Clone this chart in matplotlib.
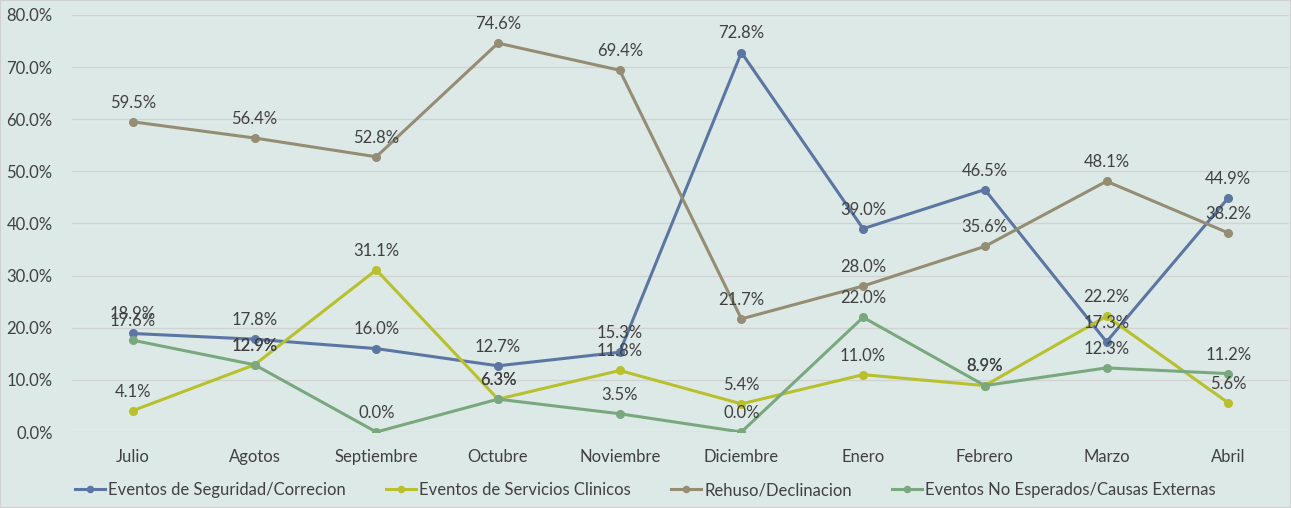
import matplotlib
matplotlib.use("Agg")
import matplotlib.pyplot as plt
from matplotlib.ticker import FuncFormatter

plt.rcParams['font.family'] = ['Lato', 'DejaVu Sans']

months = ["Julio", "Agotos", "Septiembre", "Octubre", "Noviembre", "Diciembre",
          "Enero", "Febrero", "Marzo", "Abril"]
seguridad = [18.9, 17.8, 16.0, 12.7, 15.3, 72.8, 39.0, 46.5, 17.3, 44.9]
clinicos = [4.1, 12.9, 31.1, 6.3, 11.8, 5.4, 11.0, 8.9, 22.2, 5.6]
rehuso = [59.5, 56.4, 52.8, 74.6, 69.4, 21.7, 28.0, 35.6, 48.1, 38.2]
no_esperados = [17.6, 12.9, 0.0, 6.3, 3.5, 0.0, 22.0, 8.9, 12.3, 11.2]

series = [
    ("Eventos de Seguridad/Correcion", seguridad, "#5B76A2"),
    ("Eventos de Servicios Clinicos", clinicos, "#B8C02C"),
    ("Rehuso/Declinacion", rehuso, "#958D73"),
    ("Eventos No Esperados/Causas Externas", no_esperados, "#7AA87E"),
]

bg = "#DCE9E7"
fig = plt.figure(figsize=(12.91, 5.08), dpi=100, facecolor=bg)
ax = fig.add_axes([0.0558, 0.1496, 0.9427, 0.8209], facecolor=bg)

x = list(range(len(months)))
for name, vals, col in series:
    ax.plot(x, vals, color=col, lw=2.2, marker='o', ms=5.5, label=name, zorder=3)
    for xi, v in zip(x, vals):
        ax.annotate(f"{v:.1f}%", (xi, v), xytext=(0, 8), textcoords='offset points',
                    ha='center', va='bottom', fontsize=12, color='#404040', zorder=4)

ax.set_xlim(-0.5, len(months) - 0.5)
ax.set_ylim(0, 80)
ax.set_yticks(range(0, 81, 10))
ax.yaxis.set_major_formatter(FuncFormatter(lambda v, p: f"{v:.1f}%"))
ax.set_xticks(x)
ax.set_xticklabels(months)
ax.tick_params(axis='both', length=0, labelsize=12, labelcolor='#404040')
ax.tick_params(axis='x', pad=12)
ax.tick_params(axis='y', pad=14)
ax.grid(axis='y', color='#D2D2D2', lw=1)
ax.set_axisbelow(True)
for s in ax.spines.values():
    s.set_visible(False)

fig.legend(loc='center', bbox_to_anchor=(0.5, 0.035), ncol=4, frameon=False,
           fontsize=12, labelcolor='#404040', handlelength=1.8, handletextpad=0.2,
           columnspacing=2.4, markerscale=0.8)

fig.patches.append(plt.Rectangle((0, 0), 1, 1, transform=fig.transFigure,
                                 fill=False, ec='#D0D0D0', lw=1.5))
fig.savefig("out.png", dpi=100, facecolor=bg)
